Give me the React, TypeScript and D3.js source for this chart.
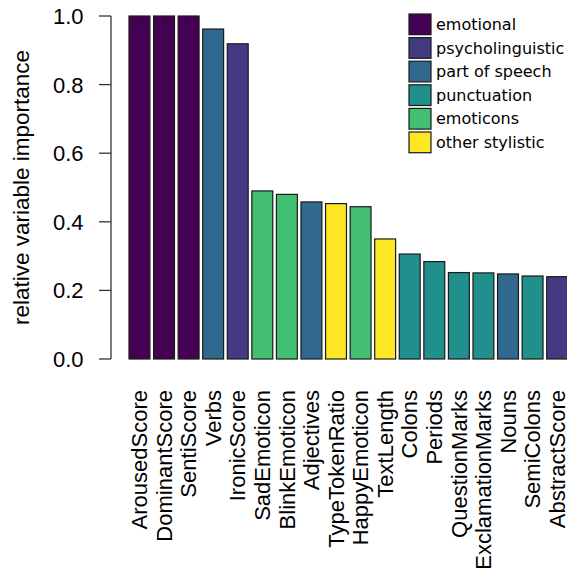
import React from "react";
import * as d3 from "d3";

const categories = [
  "ArousedScore", "DominantScore", "SentiScore", "Verbs", "IronicScore",
  "SadEmoticon", "BlinkEmoticon", "Adjectives", "TypeTokenRatio", "HappyEmoticon",
  "TextLength", "Colons", "Periods", "QuestionMarks", "ExclamationMarks",
  "Nouns", "SemiColons", "AbstractScore",
];
const values = [
  1.0, 1.0, 1.0, 0.962, 0.919,
  0.49, 0.48, 0.458, 0.453, 0.444,
  0.35, 0.306, 0.284, 0.252, 0.251,
  0.248, 0.242, 0.24,
];
const groups = [
  "emotional", "emotional", "emotional", "part of speech", "psycholinguistic",
  "emoticons", "emoticons", "part of speech", "other stylistic", "emoticons",
  "other stylistic", "punctuation", "punctuation", "punctuation", "punctuation",
  "part of speech", "punctuation", "psycholinguistic",
];
const legendLabels = [
  "emotional", "psycholinguistic", "part of speech", "punctuation", "emoticons", "other stylistic",
];
const legendColors = ["#440154", "#443A83", "#31688E", "#21908C", "#43BF71", "#FDE725"];
const yTicks = [0, 0.2, 0.4, 0.6, 0.8, 1.0];

export default function App() {
  const W = 567, H = 575;
  const y = d3.scaleLinear().domain([0, 1]).range([359, 16]);
  const x = d3.scaleBand<string>().domain(categories).range([129, 567.6]).paddingInner(0.149).paddingOuter(0);
  const color = d3.scaleOrdinal<string, string>().domain(legendLabels).range(legendColors);
  const axisX = 111;
  const sans = "'Liberation Sans', Arial, sans-serif";
  return (
    <svg width={W} height={H} style={{ position: "absolute", left: 0, top: 0, background: "#fff" }}>
      {/* bars */}
      {categories.map((c, i) => (
        <rect key={c} x={x(c)} y={y(values[i])} width={x.bandwidth()} height={y(0) - y(values[i])}
          fill={color(groups[i])} stroke="#1a1a1a" strokeWidth={1.2} />
      ))}
      {/* y axis */}
      <line x1={axisX} x2={axisX} y1={y(1)} y2={y(0)} stroke="#333" strokeWidth={1.3} />
      {yTicks.map((t) => (
        <g key={t}>
          <line x1={axisX - 12} x2={axisX} y1={y(t)} y2={y(t)} stroke="#333" strokeWidth={1.3} />
          <text x={83.5} y={y(t)} dy="0.36em" textAnchor="end" fontFamily={sans} fontSize={22} fill="#000">
            {d3.format(".1f")(t)}
          </text>
        </g>
      ))}
      <text transform={`translate(29,${(y(0) + y(1)) / 2}) rotate(-90)`} textAnchor="middle"
        fontFamily={sans} fontSize={22.5} fill="#000">relative variable importance</text>
      {/* x labels */}
      {categories.map((c) => (
        <text key={c} transform={`translate(${(x(c) as number) + x.bandwidth() / 2},390) rotate(-90)`}
          dy="0.35em" textAnchor="end" fontFamily={sans} fontSize={22} fill="#000">{c}</text>
      ))}
      {/* legend */}
      {legendLabels.map((l, i) => (
        <g key={l}>
          <rect x={409} y={14 + i * 23.6} width={22} height={20.7} fill={legendColors[i]} stroke="#1a1a1a" strokeWidth={1.2} />
          <text x={436} y={14 + i * 23.6 + 10.35} dy="0.35em" fontFamily="'DejaVu Sans', sans-serif" fontSize={16} fill="#000">{l}</text>
        </g>
      ))}
    </svg>
  );
}
